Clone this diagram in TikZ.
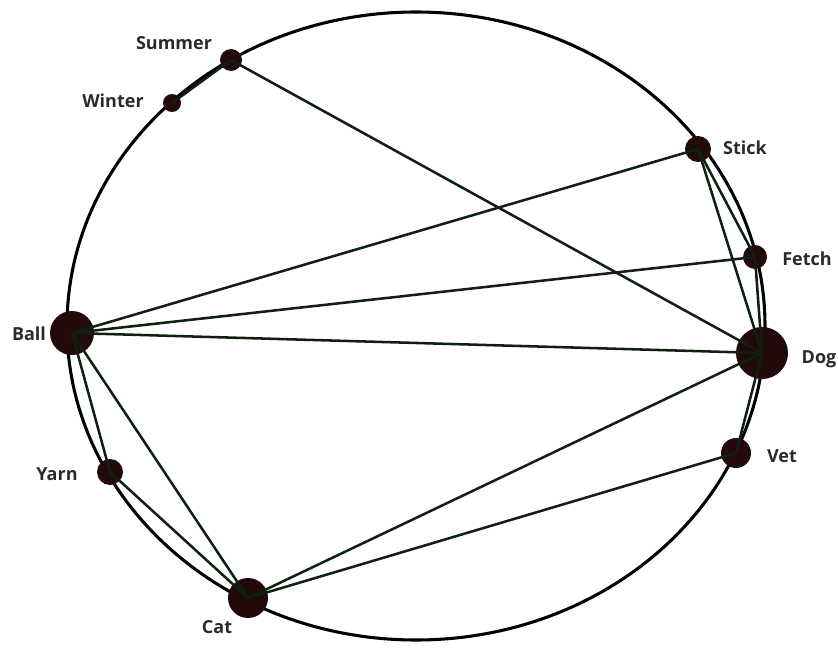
\documentclass[tikz,border=0pt]{standalone}
\usepackage{fontspec}
\setmainfont{Open Sans}
\begin{document}
\begin{tikzpicture}[x=0.75pt,y=-0.75pt,
  vtx/.style={circle,fill=nodecol,draw=none,inner sep=0pt,minimum size=#1*0.75pt},
  lbl/.style={font=\fontsize{13.5}{15}\selectfont\bfseries,text=labcol,inner sep=0pt},
  edge/.style={draw=edgecol,line width=1.9pt}]
\definecolor{nodecol}{HTML}{220A0A}
\definecolor{edgecol}{HTML}{102010}
\definecolor{labcol}{HTML}{2A2A2A}
\useasboundingbox (0,0) rectangle (838,649);
\draw[line width=2.3pt,black] (416,326) ellipse [x radius=349, y radius=314];
% nodes
\node[vtx=22] (summer) at (231,60) {};
\node[vtx=18] (winter) at (172,103) {};
\node[vtx=26] (stick) at (698,149) {};
\node[vtx=24] (fetch) at (755,257) {};
\node[vtx=52] (dog) at (762,353) {};
\node[vtx=30] (vet) at (736,453) {};
\node[vtx=40] (cat) at (248,598) {};
\node[vtx=44] (ball) at (72,333) {};
\node[vtx=26] (yarn) at (110,472) {};
% edges
\foreach \a/\b in {summer/winter,summer/dog,stick/ball,stick/fetch,stick/dog,fetch/ball,fetch/dog,ball/dog,ball/yarn,ball/cat,yarn/cat,cat/dog,cat/vet,vet/dog}
  \draw[edge] (\a.center) -- (\b.center);
% labels
\node[lbl] (lsummer) at (174,43) {Summer};
\node[lbl] (lwinter) at (113,101) {Winter};
\node[lbl] (lstick) at (745,148) {Stick};
\node[lbl] (lfetch) at (807,259) {Fetch};
\node[lbl] (ldog) at (819,359) {Dog};
\node[lbl] (lvet) at (782,456) {Vet};
\node[lbl] (lcat) at (217,627) {Cat};
\node[lbl] (lyarn) at (57,474) {Yarn};
\node[lbl] (lball) at (29,334) {Ball};
\end{tikzpicture}
\end{document}
